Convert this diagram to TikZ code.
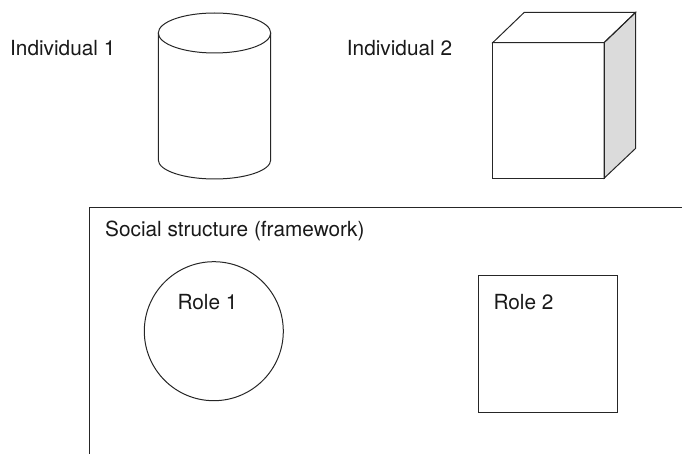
\documentclass[tikz,border=0pt]{standalone}
\usepackage{fontspec}
\setmainfont{TeX Gyre Heros}
\begin{document}
\begin{tikzpicture}[x=1pt,y=-1pt,
  outline/.style={draw=black!85,line width=1pt,line join=miter},
  label/.style={inner sep=0pt,anchor=base west,text=black!90,
    font=\fontsize{20.8}{25}\selectfont},
  shade face/.style={outline,fill=black!14}]
\useasboundingbox (0,0) rectangle (682,454);

% Individual 1: cylinder
\draw[outline] (158.3,33) -- (158.3,160)
  arc[start angle=180,end angle=360,x radius=56.2pt,y radius=19pt]
  -- (270.7,33);
\draw[outline] (214.5,33) ellipse[x radius=56.2pt,y radius=20pt];
\node[label] (ind1) at (10,56) {Individual 1};

% Individual 2: box drawn in perspective
\draw[shade face] (604,42.7) -- (635.7,12.3) -- (635.7,148.3) -- (604,178.3) -- cycle;
\draw[outline] (492.7,42.7) -- (524.3,12.3) -- (635.7,12.3) -- (604,42.7) -- cycle;
\draw[outline] (492.7,42.7) rectangle (604,178.3);
\node[label] (ind2) at (346.7,56) {Individual 2};

% Social structure frame, open at right and bottom
\draw[outline] (89.3,454) -- (89.3,207.3) -- (682,207.3);
\node[label] (frame) at (105,236.7) {Social structure (framework)};

% Roles
\draw[outline] (213.8,331.2) circle[radius=69.5pt];
\node[label] (role1) at (177.3,309) {Role 1};
\draw[outline] (478.7,275.3) rectangle (617.3,412.3);
\node[label] (role2) at (493.3,309) {Role 2};
\end{tikzpicture}
\end{document}
